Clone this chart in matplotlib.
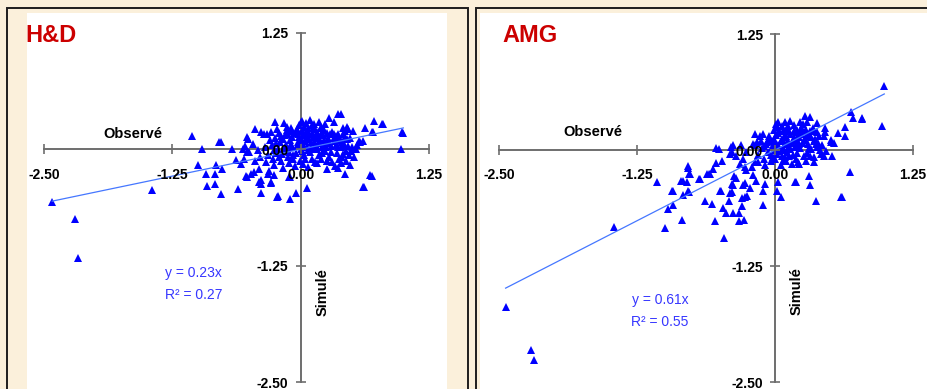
import numpy as np
import matplotlib
matplotlib.use("Agg")
import matplotlib.pyplot as plt
from matplotlib.patches import Rectangle

plt.rcParams['font.family'] = ['Liberation Sans', 'DejaVu Sans']
plt.rcParams['font.weight'] = 'bold'
plt.rcParams['axes.unicode_minus'] = False

W, H = 927, 389
BG = '#fbf0db'
AXIS_C = '#6e6e6e'
PT_C = '#0000ff'
FIT_C = '#4577ff'
EQ_C = '#3636ff'
TITLE_C = '#cc0000'

TICKS = [-2.50, -1.25, 0.00, 1.25]

# ---- H&D : observed vs simulated ----
hd_pts = [
    (-2.42, -0.57), (-2.20, -0.75), (-2.17, -1.17), (-1.45, -0.44), (-1.06, 0.14),
    (-0.80, 0.08), (-0.78, 0.08), (-0.96, 0.00), (-1.00, -0.17), (-0.92, -0.26),
    (-0.83, -0.26), (-0.91, -0.39), (-0.83, -0.37), (-0.78, -0.48), (-0.77, -0.21),
    (-0.82, -0.17), (-0.67, 0.00), (-0.61, -0.43), (-0.63, -0.11), (-0.58, -0.16),
    (-0.53, -0.29), (-0.51, 0.11), (-0.56, 0.00), (-0.52, -0.03), (-0.44, 0.22),
    (-0.36, 0.17), (-0.25, 0.29), (-0.39, -0.47), (-0.39, -0.37), (-0.39, -0.33),
    (-0.29, -0.36), (-0.22, -0.50), (-0.10, -0.53), (-0.05, -0.47), (0.06, -0.42),
    (-0.10, -0.30), (-0.45, -0.24), (-0.48, -0.26), (-0.32, -0.26), (0.43, -0.27),
    (0.68, -0.28), (0.61, -0.40), (0.98, 0.00), (1.00, 0.18), (0.80, 0.27),
    (0.71, 0.30), (0.63, 0.23), (0.69, 0.19), (0.57, 0.09), (0.61, 0.09),
    (0.53, 0.00), (0.39, 0.38), (0.28, 0.34), (0.32, 0.29), (0.41, 0.23),
    (0.43, 0.20), (0.37, 0.13), (0.42, 0.04), (0.39, -0.15), (0.31, -0.14),
    (0.01, 0.30), (0.12, 0.23), (0.20, 0.23), (-0.13, 0.24), (-0.08, 0.20),
    (-0.39, 0.19), (-0.52, 0.13), (-0.54, 0.04), (-0.50, -0.03), (-0.42, -0.01),
    (-0.55, -0.10), (-0.44, -0.12), (-0.34, -0.14), (-0.41, -0.21), (-0.31, -0.23),
    (-0.26, -0.17), (-0.52, -0.30), (-0.41, -0.35), (-0.29, -0.35), (-0.23, -0.51),
    (-0.11, -0.30), (-0.16, 0.28), (0.00, 0.29), (0.11, 0.26), (0.20, 0.24),
    (0.36, 0.38), (0.32, 0.17), (0.16, -0.15), (0.26, -0.12), (0.07, -0.19),
    (-0.26, -0.28), (0.45, 0.24), (0.51, 0.20), (0.79, 0.27), (0.70, 0.19),
    (0.58, 0.08), (0.54, 0.00), (0.99, 0.19), (0.69, -0.29), (0.62, -0.40),
    (0.41, -0.05), (0.39, -0.15),
    # dense core
    (-0.30, 0.10), (-0.28, 0.05), (-0.25, 0.12), (-0.22, 0.00), (-0.20, 0.08),
    (-0.18, -0.05), (-0.15, 0.15), (-0.14, 0.05), (-0.12, -0.08), (-0.10, 0.10),
    (-0.08, 0.02), (-0.06, 0.18), (-0.05, -0.04), (-0.03, 0.08), (-0.02, 0.13),
    (0.00, 0.00), (0.01, 0.20), (0.02, 0.06), (0.03, -0.06), (0.05, 0.12),
    (0.06, 0.02), (0.08, 0.17), (0.09, -0.03), (0.10, 0.08), (0.12, 0.13),
    (0.13, 0.00), (0.15, 0.05), (0.16, 0.19), (0.18, -0.06), (0.19, 0.10),
    (0.21, 0.03), (0.22, 0.15), (0.24, -0.02), (0.25, 0.07), (0.27, 0.12),
    (0.28, -0.08), (0.30, 0.04), (0.31, 0.19), (0.33, 0.09), (0.35, -0.04),
    (0.36, 0.02), (0.38, 0.10), (0.40, -0.08), (0.42, 0.06), (0.44, -0.02),
    (-0.32, -0.06), (-0.27, -0.10), (-0.24, -0.04), (-0.21, 0.18), (-0.19, -0.12),
    (-0.16, -0.02), (-0.13, 0.21), (-0.11, -0.15), (-0.09, 0.06), (-0.07, -0.10),
    (-0.04, 0.22), (-0.01, -0.12), (0.00, 0.11), (0.04, -0.10), (0.07, 0.23),
    (0.11, -0.10), (0.14, 0.22), (0.17, 0.12), (0.20, -0.10), (0.23, 0.21),
    (0.26, -0.12), (0.29, 0.16), (0.34, 0.14), (0.37, -0.10), (0.41, 0.16),
    (0.45, 0.11), (0.47, -0.06), (0.50, 0.03), (0.48, 0.12), (0.52, -0.08),
    (0.55, 0.05), (0.46, 0.22), (-0.35, 0.03), (-0.33, 0.17), (-0.46, 0.06),
    (-0.40, -0.08), (-0.02, 0.26), (0.05, 0.28), (0.09, 0.32), (0.18, 0.29),
    (0.24, 0.27), (0.14, -0.14), (0.02, -0.16), (-0.06, -0.18), (-0.17, -0.20),
    (0.33, -0.18), (0.44, -0.12), (0.36, -0.20), (0.48, -0.17), (0.26, -0.21),
    (-0.29, 0.19), (-0.23, 0.22), (-0.26, -0.01), (-0.21, -0.08), (-0.17, 0.11),
    (-0.15, 0.02), (-0.12, 0.17), (-0.11, -0.03), (-0.08, 0.13), (-0.07, -0.06),
    (-0.04, 0.04), (-0.03, 0.17), (-0.01, 0.05), (0.01, -0.02), (0.02, 0.15),
    (0.04, 0.09), (0.05, 0.19), (0.07, -0.01), (0.08, 0.11), (0.10, 0.03),
    (0.11, 0.18), (0.13, 0.08), (0.15, 0.13), (0.16, 0.00), (0.18, 0.07),
    (0.20, 0.16), (0.21, -0.04), (0.23, 0.10), (0.25, 0.02), (0.26, 0.18),
    (0.28, 0.08), (0.30, -0.03), (0.32, 0.12), (0.34, 0.05), (0.36, 0.17),
    (0.39, 0.02), (0.40, 0.08), (0.43, 0.13), (0.46, 0.04), (0.49, -0.02),
    (-0.19, 0.14), (-0.24, 0.07), (-0.09, 0.23), (0.03, 0.24), (0.13, 0.27),
]
hd_obs = [p[0] for p in hd_pts]
hd_sim = [p[1] for p in hd_pts]
hd_slope, hd_r2 = 0.23, 0.27

# ---- AMG : observed vs simulated ----
amg_pts = [
    (0.99, 0.69), (0.97, 0.26), (0.79, 0.34), (0.71, 0.35), (0.69, 0.41),
    (0.63, 0.25), (0.63, 0.15), (0.57, 0.18), (0.51, 0.09), (0.53, 0.08),
    (0.52, -0.06), (0.68, -0.24), (0.61, -0.51), (0.37, -0.55), (0.32, -0.38),
    (0.31, -0.28), (0.19, -0.34), (0.05, -0.51), (-0.11, -0.59), (-0.11, -0.44),
    (0.03, -0.34), (0.45, 0.24), (0.44, 0.15), (0.32, 0.36), (0.27, 0.37),
    (0.17, 0.27), (0.01, 0.28), (0.35, -0.13), (0.21, -0.13), (-0.53, 0.02),
    (-0.79, -0.17), (-0.78, -0.26), (-0.69, -0.31), (-0.60, -0.26), (-0.53, -0.14),
    (-1.07, -0.34), (-0.93, -0.44), (-0.85, -0.33), (-0.80, -0.34), (-0.78, -0.45),
    (-0.83, -0.49), (-0.92, -0.59), (-0.97, -0.64), (-0.84, -0.75), (-1.00, -0.84),
    (-1.46, -0.83), (-0.63, -0.55), (-0.57, -0.58), (-0.54, -0.77), (-0.46, -0.95),
    (-0.49, -0.44), (-0.42, -0.55), (-0.47, -0.62), (-0.44, -0.68), (-0.38, -0.68),
    (-0.33, -0.68), (-0.33, -0.77), (-0.28, -0.75), (-0.30, -0.52), (-0.27, -0.51),
    (-0.30, -0.60), (-0.23, -0.41), (-0.27, -0.36), (-0.39, -0.45), (-0.39, -0.37),
    (-0.37, -0.28), (-0.35, -0.30), (-2.44, -1.69), (-2.21, -2.16), (-2.18, -2.26),
    (-0.51, 0.01), (-0.48, -0.12), (-0.56, -0.21), (-0.59, -0.26), (-0.62, -0.26),
    (-0.68, -0.31), (-0.79, -0.19), (-0.77, -0.26), (-0.83, -0.33), (-0.79, -0.44),
    (-0.92, -0.44), (-0.50, -0.44), (-0.41, -0.46), (-0.38, -0.38), (-0.29, -0.38),
    (-0.25, -0.50), (-0.09, -0.37), (-0.17, -0.33), (-0.20, -0.27), (-0.26, -0.22),
    (-0.32, -0.15), (-0.29, -0.10), (-0.35, -0.06), (-0.41, -0.04), (-0.39, -0.02),
    (-0.38, 0.05), (-0.40, 0.03), (-0.31, 0.05), (-0.26, -0.02), (-0.20, 0.07),
    (-0.14, 0.15), (-0.18, 0.17), (-0.11, 0.17), (-0.05, 0.15), (-0.03, 0.10),
    (-0.18, -0.13), (-0.21, -0.18), (-0.27, -0.18), (-0.15, -0.13), (0.02, -0.44),
    (0.79, 0.33), (0.51, 0.11), (0.44, -0.07), (0.45, 0.19), (0.38, 0.19),
    (0.35, 0.10), (0.29, 0.30), (0.23, 0.30), (0.20, 0.22), (0.26, 0.20),
    (0.32, 0.20), (0.38, 0.03), (0.41, 0.00), (0.29, -0.03), (0.20, -0.03),
    (0.13, -0.06), (0.18, -0.34), (0.60, -0.51), (0.07, -0.12),
    # dense core
    (-0.15, -0.05), (-0.12, 0.02), (-0.10, -0.10), (-0.08, 0.06), (-0.06, -0.02),
    (-0.05, 0.12), (-0.03, 0.03), (-0.02, -0.08), (0.00, 0.08), (0.00, 0.00),
    (0.01, 0.16), (0.02, -0.04), (0.03, 0.05), (0.04, 0.20), (0.05, 0.10),
    (0.06, -0.07), (0.07, 0.02), (0.08, 0.14), (0.09, 0.06), (0.10, 0.22),
    (0.11, -0.02), (0.12, 0.10), (0.13, 0.04), (0.14, 0.17), (0.15, 0.08),
    (0.16, -0.05), (0.17, 0.13), (0.18, 0.03), (0.19, 0.19), (0.21, 0.09),
    (0.22, 0.14), (0.23, 0.02), (0.24, 0.17), (0.25, 0.08), (0.26, -0.06),
    (0.27, 0.12), (0.28, 0.22), (0.30, 0.06), (0.31, 0.15), (0.33, 0.01),
    (0.34, 0.24), (0.36, 0.12), (0.39, 0.08), (0.40, 0.15), (0.42, -0.04),
    (0.43, 0.05), (-0.18, 0.05), (-0.13, 0.10), (-0.09, -0.16), (-0.04, -0.12),
    (0.02, 0.25), (0.05, -0.16), (0.09, 0.30), (0.10, -0.12), (0.12, 0.26),
    (0.15, -0.15), (0.06, 0.26), (0.03, 0.30), (-0.01, 0.22), (0.19, -0.10),
    (0.14, 0.31), (0.22, -0.15), (0.28, -0.12), (0.25, 0.28), (0.35, -0.08),
    (0.38, 0.29), (0.46, -0.01),
    (-0.07, 0.09), (-0.04, -0.05), (-0.01, 0.12), (0.01, 0.04), (0.03, 0.18),
    (0.04, -0.01), (0.06, 0.12), (0.07, 0.21), (0.08, 0.00), (0.10, 0.15),
    (0.11, 0.07), (0.13, 0.20), (0.14, 0.01), (0.16, 0.11), (0.17, 0.21),
    (0.19, 0.05), (0.20, 0.14), (0.22, 0.06), (0.24, 0.24), (0.26, 0.11),
    (0.29, 0.17), (0.31, 0.02), (0.33, 0.14), (0.35, 0.21), (0.37, 0.06),
    (-0.10, 0.04), (-0.16, 0.09), (0.00, -0.10), (0.09, -0.08), (0.32, -0.06),
]
amg_obs = [p[0] for p in amg_pts]
amg_sim = [p[1] for p in amg_pts]
amg_slope, amg_r2 = 0.61, 0.55


def fx(px):
    return px / W


def fy(py):
    return 1 - py / H


def panel(fig, frame_l, frame_r, white_l, white_r):
    fig.add_artist(Rectangle((fx(frame_l), fy(400)), (frame_r - frame_l) / W, (400 - 8) / H,
                             transform=fig.transFigure, facecolor='none',
                             edgecolor='#1e1e1e', lw=1.4, zorder=0))
    fig.add_artist(Rectangle((fx(white_l), fy(400)), (white_r - white_l) / W, (400 - 13) / H,
                             transform=fig.transFigure, facecolor='white',
                             edgecolor='none', zorder=0))


def scatter_panel(ax, obs, sim, slope, r2, eq_xy, lab_obs, lab_sim):
    ax.set_xlim(-2.5, 1.25)
    ax.set_ylim(-2.5, 1.25)
    ax.patch.set_visible(False)
    for s in ['top', 'right']:
        ax.spines[s].set_visible(False)
    for s in ['left', 'bottom']:
        ax.spines[s].set_position(('data', 0))
        ax.spines[s].set_bounds(-2.5, 1.25)
        ax.spines[s].set_color(AXIS_C)
        ax.spines[s].set_linewidth(1.4)
        ax.spines[s].set_zorder(1)
    ax.set_axisbelow(False)
    ax.set_xticks(TICKS)
    ax.set_yticks(TICKS)
    ax.set_xticklabels([f"{t:.2f}" for t in TICKS])
    ax.set_yticklabels([f"{t:.2f}" for t in TICKS])
    ax.tick_params(direction='inout', length=7.5, width=1.2, color=AXIS_C,
                   labelsize=10, labelcolor='black')
    ax.tick_params(axis='x', pad=9.5)
    ax.tick_params(axis='y', pad=5)

    ax.plot(obs, sim, linestyle='none', marker='^', markersize=6.3,
            color=PT_C, markeredgewidth=0, zorder=2, clip_on=False)
    xl = np.array([min(obs), max(obs)])
    ax.plot(xl, slope * xl, color=FIT_C, lw=0.9, zorder=2.2)

    ax.text(eq_xy[0], eq_xy[1], f"y = {slope:.2f}x", color=EQ_C, fontsize=10,
            fontweight='normal', ha='center', va='center')
    ax.text(eq_xy[0], eq_xy[1] - 0.235, f"R² = {r2:.2f}", color=EQ_C, fontsize=10,
            fontweight='normal', ha='center', va='center')
    ax.text(lab_obs[0], lab_obs[1], "Observé", fontsize=10.5, ha='center', va='center')
    ax.text(lab_sim[0], lab_sim[1], "Simulé", fontsize=10.5, rotation=90,
            ha='center', va='center')


fig = plt.figure(figsize=(W / 100, H / 100), dpi=100, facecolor=BG)
panel(fig, 7, 468, 27, 447)
panel(fig, 476, 940, 480, 940)

ax1 = fig.add_axes([44 / W, 7 / H, 385 / W, 349 / H])
scatter_panel(ax1, hd_obs, hd_sim, hd_slope, hd_r2, (-1.04, -1.33),
              (-1.63, 0.17), (0.21, -1.53))
ax2 = fig.add_axes([499 / W, 7 / H, 414 / W, 348 / H])
scatter_panel(ax2, amg_obs, amg_sim, amg_slope, amg_r2, (-1.04, -1.62),
              (-1.65, 0.19), (0.20, -1.52))

fig.text(fx(25), fy(36), "H&D", color=TITLE_C, fontsize=17, ha='left', va='center')
fig.text(fx(502), fy(36), "AMG", color=TITLE_C, fontsize=17, ha='left', va='center')

fig.savefig("out.png", dpi=100, facecolor=BG)
